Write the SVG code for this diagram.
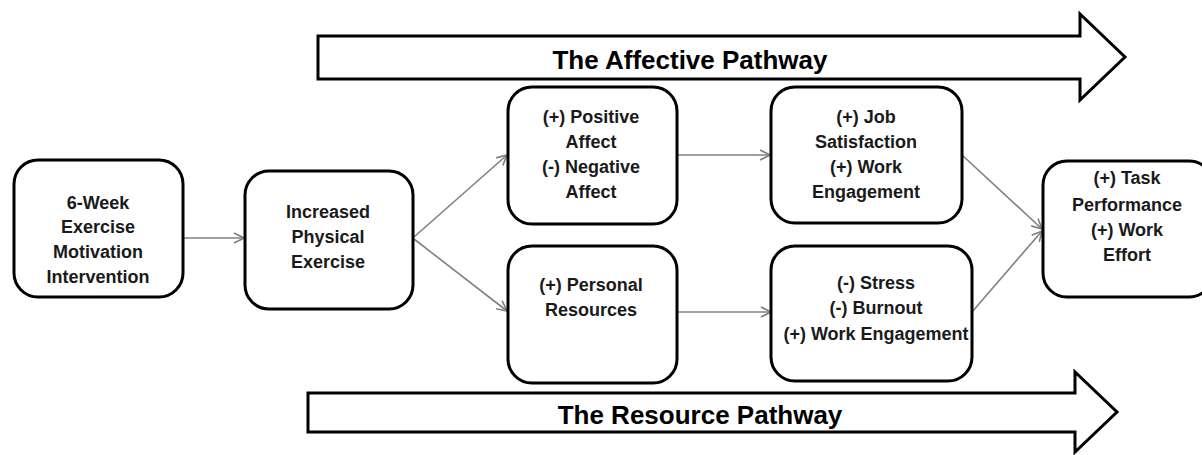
<svg xmlns="http://www.w3.org/2000/svg" width="1202" height="455" viewBox="0 0 1202 455">
<style>
.box{fill:#fff;stroke:#000;stroke-width:3}
.t{font-family:"Liberation Sans",Arial,sans-serif;font-weight:bold;font-size:18px;fill:#1a1a1a;text-anchor:middle}
.big{font-family:"Liberation Sans",Arial,sans-serif;font-weight:bold;font-size:26px;fill:#000;text-anchor:middle}
.band{fill:#fff;stroke:#000;stroke-width:3;stroke-linejoin:miter}
.c{stroke:#808080;stroke-width:1.6;fill:none;marker-end:url(#ah)}
</style>
<defs>
<marker id="ah" viewBox="0 0 12 12" refX="11" refY="6" markerWidth="12" markerHeight="12" markerUnits="userSpaceOnUse" orient="auto">
<path d="M1,1 L11,6 L1,11" fill="none" stroke="#808080" stroke-width="1.6"/>
</marker>
</defs>
<rect width="1202" height="455" fill="#fff"/>
<g id="affective-pathway">
<polygon class="band" points="318,36 1080,36 1080,14 1125,57 1080,100 1080,79 318,79"/>
<text class="big" x="690" y="69">The Affective Pathway</text>
</g>
<g id="resource-pathway">
<polygon class="band" points="308,393 1075,393 1075,372 1117,412 1075,452 1075,432 308,432"/>
<text class="big" x="700" y="424">The Resource Pathway</text>
</g>
<g id="connectors">
<line class="c" x1="183" y1="238" x2="244" y2="238"/>
<line class="c" x1="414" y1="237" x2="507" y2="155"/>
<line class="c" x1="414" y1="239" x2="507" y2="311"/>
<line class="c" x1="677" y1="155" x2="770" y2="155"/>
<line class="c" x1="677" y1="312" x2="771" y2="312"/>
<line class="c" x1="962" y1="155" x2="1042" y2="229"/>
<line class="c" x1="972" y1="312" x2="1042" y2="231"/>
</g>
<g id="n1">
<rect class="box" x="14" y="160" width="169" height="137" rx="24"/>
<text class="t" x="98" y="209">6-Week</text>
<text class="t" x="98" y="233">Exercise</text>
<text class="t" x="98" y="258">Motivation</text>
<text class="t" x="98" y="283">Intervention</text>
</g>
<g id="n2">
<rect class="box" x="245" y="171" width="168" height="138" rx="24"/>
<text class="t" x="328" y="218">Increased</text>
<text class="t" x="328" y="243">Physical</text>
<text class="t" x="328" y="268">Exercise</text>
</g>
<g id="n3">
<rect class="box" x="508" y="87" width="169" height="137" rx="24"/>
<text class="t" x="591" y="123">(+) Positive</text>
<text class="t" x="591" y="148">Affect</text>
<text class="t" x="591" y="173">(-) Negative</text>
<text class="t" x="591" y="198">Affect</text>
</g>
<g id="n4">
<rect class="box" x="508" y="246" width="169" height="137" rx="24"/>
<text class="t" x="591" y="291">(+) Personal</text>
<text class="t" x="591" y="316">Resources</text>
</g>
<g id="n5">
<rect class="box" x="771" y="87" width="191" height="136" rx="24"/>
<text class="t" x="866" y="123">(+) Job</text>
<text class="t" x="866" y="148">Satisfaction</text>
<text class="t" x="866" y="173">(+) Work</text>
<text class="t" x="866" y="198">Engagement</text>
</g>
<g id="n6">
<rect class="box" x="771" y="246" width="201" height="135" rx="24"/>
<text class="t" x="876" y="289">(-) Stress</text>
<text class="t" x="876" y="314">(-) Burnout</text>
<text class="t" x="876" y="340">(+) Work Engagement</text>
</g>
<g id="n7">
<rect class="box" x="1043" y="161" width="170" height="136" rx="24"/>
<text class="t" x="1127" y="184">(+) Task</text>
<text class="t" x="1127" y="211">Performance</text>
<text class="t" x="1127" y="236">(+) Work</text>
<text class="t" x="1127" y="261">Effort</text>
</g>
</svg>
